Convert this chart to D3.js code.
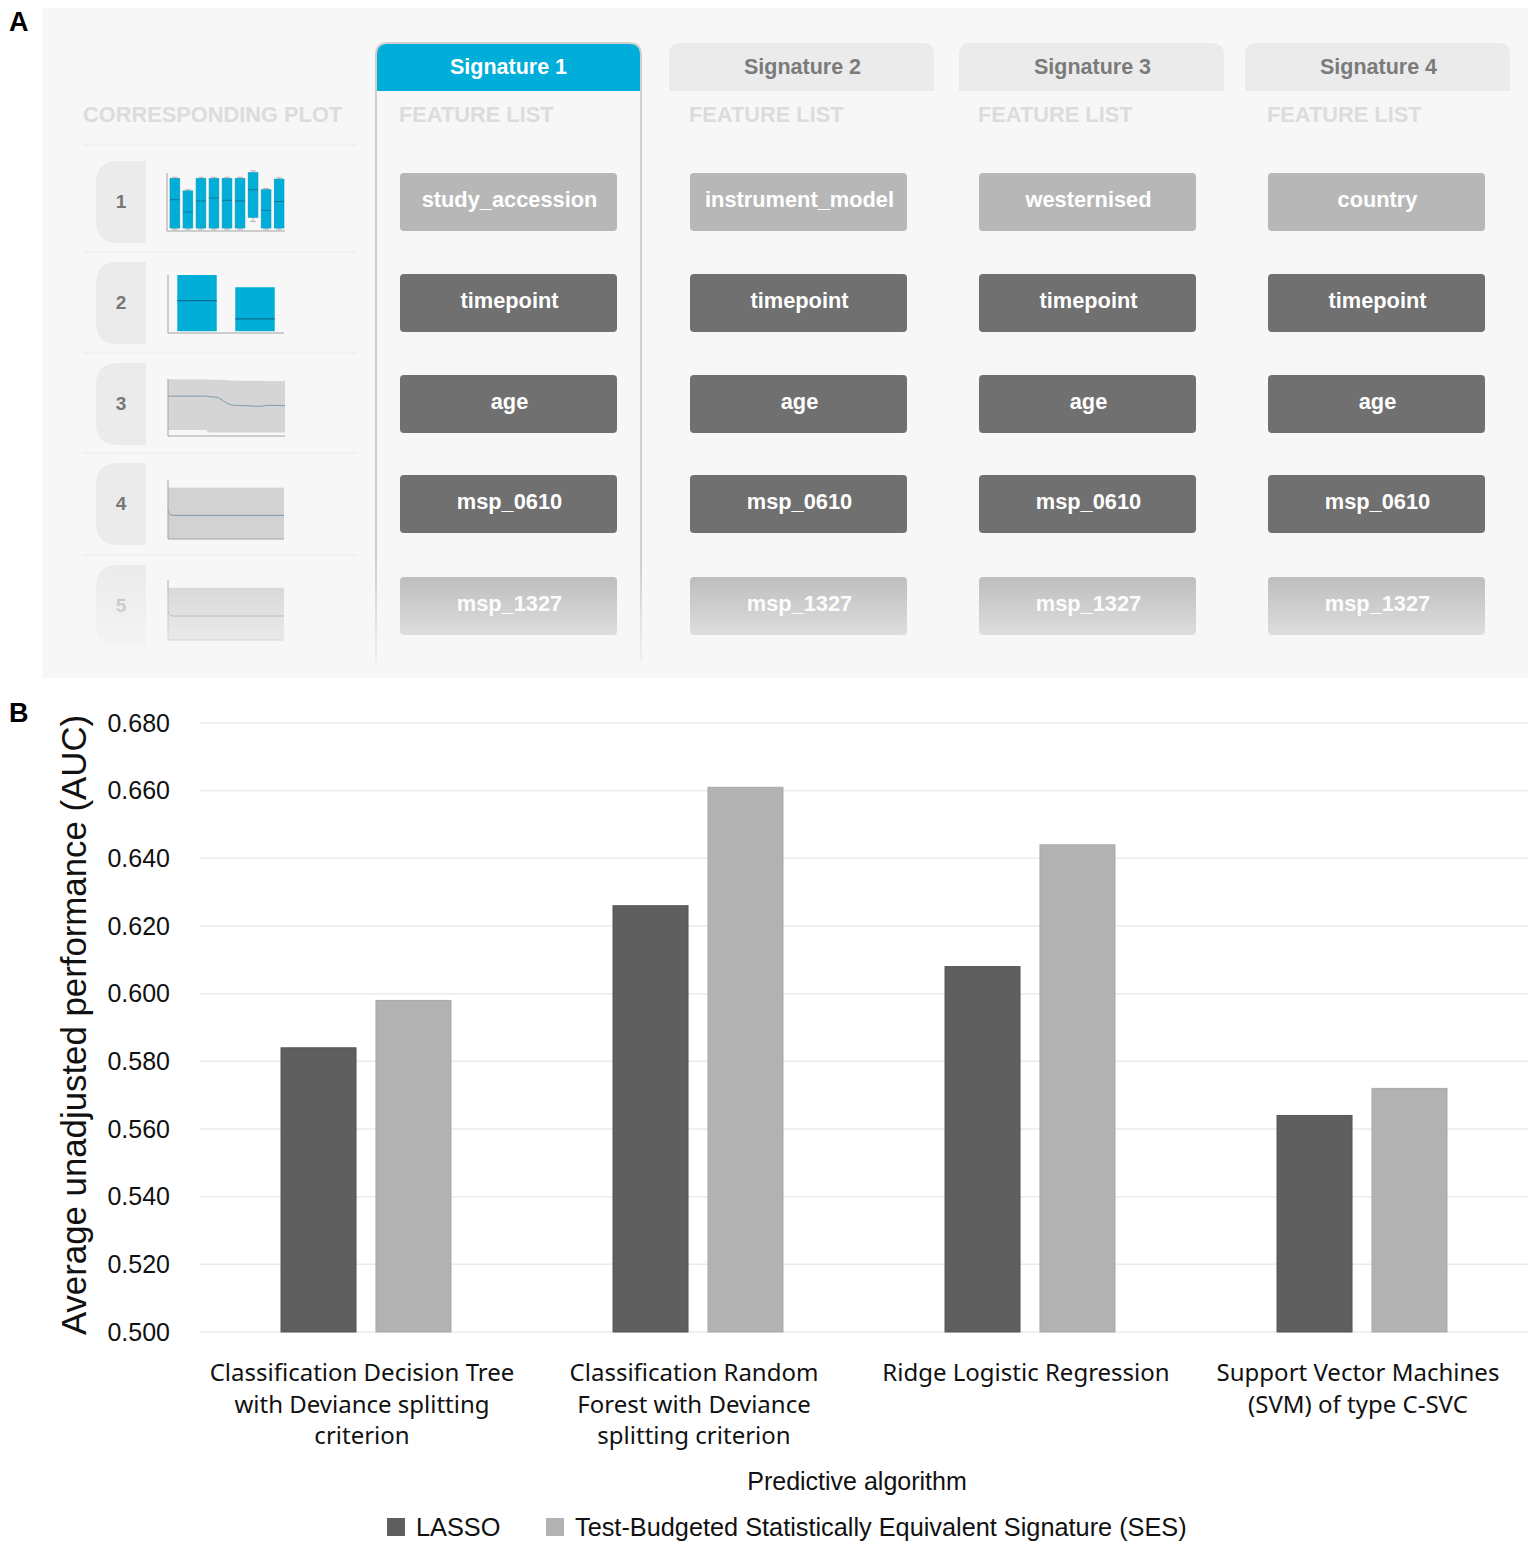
<!DOCTYPE html>
<html>
<head>
<meta charset="utf-8">
<script src="https://cdn.jsdelivr.net/npm/d3@7"></script>
<style>
  body { margin: 0; background: #fff; }
  svg { display: block; }
</style>
</head>
<body>
<svg id="fig" width="1535" height="1548"></svg>
<script>
// ---------- panel A : signatures and feature lists ----------
const signatures = ['Signature 1', 'Signature 2', 'Signature 3', 'Signature 4'];
const firstFeatures = ['study_accession', 'instrument_model', 'westernised', 'country'];
const sharedFeatures = ['timepoint', 'age', 'msp_0610'];
const lastFeature = 'msp_1327';
const plotRows = ['1', '2', '3', '4', '5'];

// thumbnail 1: nine box plots (0-100 = thumbnail height)
const thumb1Q3  = [89, 68, 89, 89, 89, 89, 99, 70, 88];
const thumb1Med = [53, 32, 51, 56, 52, 51, 70, 35, 50];
const thumb1Q1  = [5, 5, 5, 5, 5, 5, 23, 5, 5];
const thumb1Hi  = [91, 70, 91, 91, 91, 91, 102, 72, 90];
const thumb1Lo  = [3, 3, 3, 3, 3, 3, 16, 3, 3];
// thumbnail 2: two boxes
const thumb2Q3  = [95, 75];
const thumb2Med = [53, 23];
const thumb2Q1  = [3, 3];
// thumbnail 3: line with confidence band
const thumb3X     = [0, 0.32, 0.35, 0.42, 0.45, 0.5, 0.56, 0.68, 0.79, 0.85, 1];
const thumb3Line  = [70, 70, 69, 68, 65, 58, 54, 53, 52, 54, 53];
const thumb3Upper = [99.5, 99, 99, 98.5, 98.5, 98, 97.5, 97, 97, 96.5, 96.5];
const thumb3Lower = [10.5, 10.5, 6, 6, 6, 6, 6, 6, 6, 6, 6];
// thumbnails 4 and 5: flat line over a band
const thumb4X    = [0, 0.015, 0.05, 1];
const thumb4Line = [49, 42, 40, 40];
const thumb4Band = 87;

// ---------- panel B : AUC per algorithm ----------
const algorithms = ['CDT', 'CRF', 'RLR', 'SVM'];
const algorithmLabels = [
    ['Classification Decision Tree', 'with Deviance splitting', 'criterion'],
    ['Classification Random', 'Forest with Deviance', 'splitting criterion'],
    ['Ridge Logistic Regression'],
    ['Support Vector Machines', '(SVM) of type C-SVC']
];
const seriesNames = ['LASSO', 'Test-Budgeted Statistically Equivalent Signature (SES)'];
const lassoAUC = [0.584, 0.626, 0.608, 0.564];
const sesAUC   = [0.598, 0.661, 0.644, 0.572];
const yTicks = [0.50, 0.52, 0.54, 0.56, 0.58, 0.60, 0.62, 0.64, 0.66, 0.68];

const ARIAL = '"Liberation Sans", Arial, sans-serif';
const svg = d3.select('#fig');
const defs = svg.append('defs');

/**
 * 上边两角圆的矩形
 */
function roundTop(x, y, w, h, r) {
    return `M${x},${y + h} L${x},${y + r} Q${x},${y} ${x + r},${y} L${x + w - r},${y} Q${x + w},${y} ${x + w},${y + r} L${x + w},${y + h} Z`;
}

// 面板标签
svg.append('text').attr('x', 9).attr('y', 31).text('A')
    .attr('font-family', ARIAL).attr('font-weight', 'bold').attr('font-size', 27);
svg.append('text').attr('x', 9).attr('y', 722).text('B')
    .attr('font-family', ARIAL).attr('font-weight', 'bold').attr('font-size', 27);

// ================= PANEL A =================
const pa = svg.append('g');
pa.append('rect').attr('x', 42).attr('y', 8).attr('width', 1486).attr('height', 670).attr('fill', '#f7f7f7');

const tabX = [376, 669, 959, 1245];
const tabW = 265;
const btnX = [400, 690, 979, 1268];
const btnW = 217, btnH = 58;
const rowY = [202, 303, 404, 504, 606];

// 左侧标题
pa.append('text').attr('x', 83).attr('y', 115).attr('dy', '0.32em')
    .text('CORRESPONDING PLOT')
    .attr('font-family', ARIAL).attr('font-weight', 'bold').attr('font-size', 21.8).attr('fill', '#dcdcdc');

// 行分隔线
pa.selectAll('line.sep')
    .data([145, 252, 353, 453, 555])
    .join('line')
    .attr('x1', 83).attr('x2', 357)
    .attr('y1', d => d).attr('y2', d => d)
    .attr('stroke', '#ebebeb').attr('stroke-width', 1.2);

// 行号标签
const rowTab = pa.selectAll('g.rowtab')
    .data(plotRows)
    .join('g')
    .attr('transform', (d, i) => `translate(0,${rowY[i]})`);
rowTab.append('path')
    .attr('d', 'M146,-41 L118,-41 Q96,-41 96,-19 L96,19 Q96,41 118,41 L146,41 Z')
    .attr('fill', '#ebebeb');
rowTab.append('text')
    .attr('x', 121).attr('dy', '0.33em').attr('text-anchor', 'middle')
    .text(d => d)
    .attr('font-family', ARIAL).attr('font-weight', 'bold').attr('font-size', 19)
    .attr('fill', (d, i) => i === 4 ? '#b4b4b4' : '#777');

// ---- thumbnails ----
const axisCol = '#a3a3a3';
const lineCol = '#7f9aab';
function thumbAxes(g, top, bottom, left, right) {
    g.append('line').attr('x1', left).attr('x2', left).attr('y1', top).attr('y2', bottom)
        .attr('stroke', axisCol).attr('stroke-width', 1);
    g.append('line').attr('x1', left).attr('x2', right).attr('y1', bottom).attr('y2', bottom)
        .attr('stroke', axisCol).attr('stroke-width', 1);
}

// thumbnail 1
{
    const g = pa.append('g');
    const ty = d3.scaleLinear().domain([0, 100]).range([231, 172]);
    const tx = d3.scaleBand().domain(d3.range(thumb1Q3.length)).range([170, 284]).paddingInner(0.25);
    g.selectAll('line.wh').data(thumb1Q3).join('line')
        .attr('x1', (d, i) => tx(i) + tx.bandwidth() / 2).attr('x2', (d, i) => tx(i) + tx.bandwidth() / 2)
        .attr('y1', (d, i) => ty(thumb1Hi[i])).attr('y2', (d, i) => ty(thumb1Lo[i]))
        .attr('stroke', '#999').attr('stroke-width', 0.7);
    [thumb1Hi, thumb1Lo].forEach(arr => {
        g.selectAll(null).data(arr).join('line')
            .attr('x1', (d, i) => tx(i) + 2).attr('x2', (d, i) => tx(i) + tx.bandwidth() - 2)
            .attr('y1', d => ty(d)).attr('y2', d => ty(d))
            .attr('stroke', '#999').attr('stroke-width', 0.7);
    });
    g.selectAll('rect.box').data(thumb1Q3).join('rect')
        .attr('x', (d, i) => tx(i)).attr('width', tx.bandwidth())
        .attr('y', d => ty(d)).attr('height', (d, i) => ty(thumb1Q1[i]) - ty(d))
        .attr('fill', '#00aed8').attr('stroke', '#0a97bd').attr('stroke-width', 0.6);
    g.selectAll('line.med').data(thumb1Med).join('line')
        .attr('x1', (d, i) => tx(i)).attr('x2', (d, i) => tx(i) + tx.bandwidth())
        .attr('y1', d => ty(d)).attr('y2', d => ty(d))
        .attr('stroke', '#0a6d8c').attr('stroke-width', 0.8);
    thumbAxes(g, 173, 231, 167, 285);
}

// thumbnail 2
{
    const g = pa.append('g');
    const ty = d3.scaleLinear().domain([0, 100]).range([333, 272]);
    const tx = d3.scaleBand().domain(d3.range(thumb2Q3.length)).range([168, 284])
        .paddingInner(0.32).paddingOuter(0.16);
    g.selectAll('rect.box').data(thumb2Q3).join('rect')
        .attr('x', (d, i) => tx(i)).attr('width', tx.bandwidth())
        .attr('y', d => ty(d)).attr('height', (d, i) => ty(thumb2Q1[i]) - ty(d))
        .attr('fill', '#00aed8');
    g.selectAll('line.med').data(thumb2Med).join('line')
        .attr('x1', (d, i) => tx(i)).attr('x2', (d, i) => tx(i) + tx.bandwidth())
        .attr('y1', d => ty(d)).attr('y2', d => ty(d))
        .attr('stroke', '#0a6d8c').attr('stroke-width', 1.2);
    thumbAxes(g, 275, 333, 168, 284);
}

// thumbnail 3
{
    const g = pa.append('g');
    const ty = d3.scaleLinear().domain([0, 100]).range([436, 379]);
    const tx = d3.scaleLinear().domain([0, 1]).range([168, 285]);
    const pts = thumb3X.map((x, i) => ({ x, v: thumb3Line[i], hi: thumb3Upper[i], lo: thumb3Lower[i] }));
    g.append('path').datum(pts)
        .attr('d', d3.area().x(d => tx(d.x)).y0(d => ty(d.lo)).y1(d => ty(d.hi)).curve(d3.curveMonotoneX))
        .attr('fill', '#d5d5d5');
    g.append('path').datum(pts)
        .attr('d', d3.line().x(d => tx(d.x)).y(d => ty(d.v)).curve(d3.curveMonotoneX))
        .attr('fill', 'none').attr('stroke', lineCol).attr('stroke-width', 1);
    thumbAxes(g, 379, 436, 168, 285);
}

// thumbnails 4 and 5
[[539, 480], [640, 580]].forEach(([bottom, top]) => {
    const g = pa.append('g');
    const ty = d3.scaleLinear().domain([0, 100]).range([bottom, top]);
    const tx = d3.scaleLinear().domain([0, 1]).range([168, 284]);
    g.append('rect').attr('x', tx(0)).attr('width', tx(1) - tx(0))
        .attr('y', ty(thumb4Band)).attr('height', ty(0) - ty(thumb4Band))
        .attr('fill', '#d2d2d2');
    g.append('path').datum(thumb4X.map((x, i) => ({ x, v: thumb4Line[i] })))
        .attr('d', d3.line().x(d => tx(d.x)).y(d => ty(d.v)).curve(d3.curveMonotoneX))
        .attr('fill', 'none').attr('stroke', lineCol).attr('stroke-width', 1);
    thumbAxes(g, top, bottom, 168, 284);
});

// ---- signature columns ----
signatures.forEach((s, i) => {
    const col = pa.append('g');
    const active = i === 0;
    col.append('path')
        .attr('d', roundTop(tabX[i], 43, tabW, 48, 12))
        .attr('fill', active ? '#01aed9' : '#ebebeb');
    if (active) {
        col.append('path')
            .attr('d', `M${tabX[i]},662 L${tabX[i]},55 Q${tabX[i]},43 ${tabX[i] + 12},43 L${tabX[i] + tabW - 12},43 Q${tabX[i] + tabW},43 ${tabX[i] + tabW},55 L${tabX[i] + tabW},662`)
            .attr('fill', 'none').attr('stroke', '#cfcfcf').attr('stroke-width', 2);
    }
    col.append('text')
        .attr('x', tabX[i] + tabW / 2 + (active ? 0 : 1)).attr('y', 67).attr('dy', '0.34em')
        .attr('text-anchor', 'middle')
        .text(s)
        .attr('font-family', ARIAL).attr('font-weight', 'bold').attr('font-size', 21.5)
        .attr('fill', active ? '#fff' : '#7b7b7b');
    col.append('text')
        .attr('x', btnX[i] - 1).attr('y', 115).attr('dy', '0.32em')
        .text('FEATURE LIST')
        .attr('font-family', ARIAL).attr('font-weight', 'bold').attr('font-size', 21.8).attr('fill', '#dcdcdc');

    const features = [firstFeatures[i], ...sharedFeatures, lastFeature];
    const btn = col.selectAll('g.btn')
        .data(features)
        .join('g')
        .attr('transform', (d, r) => `translate(${btnX[i]},${rowY[r]})`);
    btn.append('rect')
        .attr('x', 0).attr('y', -btnH / 2).attr('width', btnW).attr('height', btnH).attr('rx', 4)
        .attr('fill', (d, r) => (r === 0 || r === 4) ? '#b7b7b7' : '#707070');
    btn.append('text')
        .attr('x', btnW / 2 + 1).attr('dy', '0.24em').attr('text-anchor', 'middle')
        .text(d => d)
        .attr('font-family', ARIAL).attr('font-weight', 'bold').attr('font-size', 21.8).attr('fill', '#fff');
});

// 底部渐隐
const fade = defs.append('linearGradient').attr('id', 'fadeA')
    .attr('x1', 0).attr('y1', 0).attr('x2', 0).attr('y2', 1);
[[0, 0], [0.14, 0.1], [0.64, 0.6], [1, 0.9]].forEach(([o, a]) => {
    fade.append('stop').attr('offset', o).attr('stop-color', '#f7f7f7').attr('stop-opacity', a);
});
pa.append('rect').attr('x', 60).attr('y', 560).attr('width', 1468).attr('height', 118)
    .attr('fill', 'url(#fadeA)');

// ================= PANEL B =================
const plot = { left: 200, right: 1528, top: 723, bottom: 1332 };
const pb = svg.append('g');

const x0 = d3.scaleBand().domain(algorithms).range([plot.left, plot.right]).padding(0);
const x1 = d3.scaleBand().domain(seriesNames).range([81, 251]).paddingInner(0.21);
const y = d3.scaleLinear().domain([0.5, 0.68]).range([plot.bottom, plot.top]);
const colors = d3.scaleOrdinal().domain(seriesNames).range(['#5f5f5f', '#b2b2b2']);
const strokes = d3.scaleOrdinal().domain(seriesNames).range(['#565656', '#a9a9a9']);

// 网格线
pb.append('g')
    .selectAll('line')
    .data(yTicks)
    .join('line')
    .attr('x1', plot.left).attr('x2', plot.right)
    .attr('y1', d => y(d)).attr('y2', d => y(d))
    .attr('stroke', '#ebebeb').attr('stroke-width', 1.5);

// y轴刻度
const yAxis = pb.append('g')
    .attr('transform', `translate(${plot.left},0)`)
    .call(d3.axisLeft(y).tickValues(yTicks).tickFormat(d3.format('.3f')).tickSize(0).tickPadding(30));
yAxis.select('.domain').remove();
yAxis.selectAll('text')
    .attr('font-family', ARIAL).attr('font-size', 25).attr('fill', '#111');

// 柱子
const rows = algorithms.map((a, i) => ({ alg: a, values: [lassoAUC[i], sesAUC[i]] }));
pb.append('g')
    .selectAll('g')
    .data(rows)
    .join('g')
    .attr('transform', d => `translate(${x0(d.alg)},0)`)
    .selectAll('rect')
    .data(d => d.values.map((v, k) => ({ key: seriesNames[k], v })))
    .join('rect')
    .attr('x', d => x1(d.key))
    .attr('width', x1.bandwidth())
    .attr('y', d => y(d.v))
    .attr('height', d => y(0.5) - y(d.v))
    .attr('fill', d => colors(d.key))
    .attr('stroke', d => strokes(d.key))
    .attr('stroke-width', 1);

// x轴类别标签
const catText = pb.append('g')
    .selectAll('text')
    .data(algorithms)
    .join('text')
    .attr('x', d => x0(d) + x0.bandwidth() / 2 - 4)
    .attr('y', 1381)
    .attr('text-anchor', 'middle')
    .attr('font-family', '"Noto Sans", "Open Sans", sans-serif')
    .attr('font-size', 24)
    .attr('fill', '#111');
catText.selectAll('tspan')
    .data((d, i) => algorithmLabels[i])
    .join('tspan')
    .attr('x', function () { return this.parentNode.getAttribute('x'); })
    .attr('dy', (d, k) => k === 0 ? 0 : 31.5)
    .text(d => d);

// 轴标题
pb.append('text')
    .attr('x', 857).attr('y', 1490).attr('text-anchor', 'middle')
    .text('Predictive algorithm')
    .attr('font-family', ARIAL).attr('font-size', 25).attr('fill', '#111');
pb.append('text')
    .attr('transform', 'translate(86,1025) rotate(-90)')
    .attr('text-anchor', 'middle')
    .text('Average unadjusted performance (AUC)')
    .attr('font-family', ARIAL).attr('font-size', 34.8).attr('fill', '#111');

// 图例
const legendX = [387, 546];
const legend = pb.append('g')
    .selectAll('g')
    .data(seriesNames)
    .join('g')
    .attr('transform', (d, i) => `translate(${legendX[i]},1527)`);
legend.append('rect')
    .attr('x', 0).attr('y', -9).attr('width', 18).attr('height', 18)
    .attr('fill', d => colors(d));
legend.append('text')
    .attr('x', 29).attr('y', 9)
    .text(d => d)
    .attr('font-family', ARIAL).attr('font-size', 25.3).attr('fill', '#111');
</script>
</body>
</html>
